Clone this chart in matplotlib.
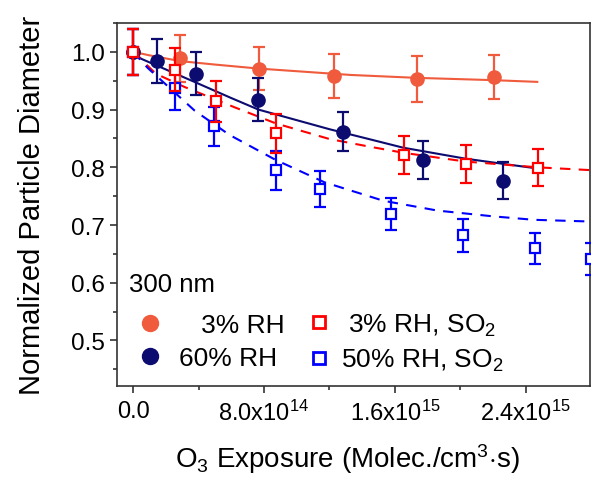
import numpy as np
import matplotlib
matplotlib.use("Agg")
from matplotlib import pyplot as plt
from matplotlib.lines import Line2D
from matplotlib.ticker import MultipleLocator

plt.rcParams['font.family'] = ['Liberation Sans', 'DejaVu Sans']
plt.rcParams['mathtext.fontset'] = 'custom'
plt.rcParams['mathtext.rm'] = 'Liberation Sans'
plt.rcParams['mathtext.it'] = 'Liberation Sans:italic'
plt.rcParams['mathtext.bf'] = 'Liberation Sans:bold'

# O3 exposure in units of 1e15 molec cm^-3 s
x_3rh = [0.0, 0.287, 0.770, 1.229, 1.733, 2.206]
y_3rh = [1.000, 0.989, 0.971, 0.958, 0.953, 0.957]
e_3rh = [0.040, 0.041, 0.037, 0.038, 0.040, 0.038]

x_60rh = [0.0, 0.145, 0.383, 0.765, 1.284, 1.773, 2.261]
y_60rh = [1.000, 0.984, 0.962, 0.917, 0.862, 0.812, 0.777]
e_60rh = [0.040, 0.038, 0.037, 0.037, 0.034, 0.033, 0.032]

x_3so2 = [0.0, 0.256, 0.507, 0.873, 1.655, 2.034, 2.475]
y_3so2 = [1.000, 0.969, 0.914, 0.859, 0.821, 0.805, 0.799]
e_3so2 = [0.040, 0.037, 0.036, 0.034, 0.033, 0.033, 0.032]

x_50so2 = [0.0, 0.256, 0.497, 0.871, 1.140, 1.574, 2.017, 2.455, 2.800]
y_50so2 = [1.000, 0.937, 0.871, 0.795, 0.763, 0.719, 0.682, 0.660, 0.641]
e_50so2 = [0.040, 0.038, 0.034, 0.034, 0.031, 0.028, 0.028, 0.027, 0.028]

# fitted curves
fx_3rh = [0.0, 0.10, 0.287, 0.50, 0.77, 1.33, 1.73, 2.20, 2.47]
fy_3rh = [1.000, 0.994, 0.984, 0.978, 0.971, 0.960, 0.955, 0.951, 0.948]

fx_60rh = [0.0, 0.05, 0.383, 0.60, 0.766, 1.20, 1.44, 1.65, 2.03, 2.26, 2.47]
fy_60rh = [1.000, 0.988, 0.947, 0.920, 0.900, 0.866, 0.849, 0.834, 0.815, 0.806, 0.798]

fx_3so2 = [0.0, 0.14, 0.316, 0.62, 0.873, 1.20, 1.44, 1.655, 2.03, 2.47, 2.80]
fy_3so2 = [1.000, 0.962, 0.939, 0.904, 0.876, 0.849, 0.836, 0.825, 0.810, 0.800, 0.795]

fx_50so2 = [0.0, 0.09, 0.377, 0.59, 0.87, 1.17, 1.53, 1.86, 2.20, 2.45, 2.80]
fy_50so2 = [1.000, 0.972, 0.898, 0.856, 0.813, 0.774, 0.742, 0.725, 0.715, 0.709, 0.706]

orange = '#EF5B3C'
navy = '#0B0B70'
red = '#FF0000'
blue = '#0000FF'

fig = plt.figure(figsize=(5.91, 4.85), dpi=100)
ax = fig.add_axes([0.198, 0.202, 0.800, 0.7485])

S = 1e15
ax.plot(np.array(fx_3rh) * S, fy_3rh, '-', color=orange, lw=1.5, zorder=2)
ax.plot(np.array(fx_60rh) * S, fy_60rh, '-', color=navy, lw=1.5, zorder=2)
ax.plot(np.array(fx_3so2) * S, fy_3so2, '--', color=red, lw=1.5, dashes=(5, 4), zorder=2)
ax.plot(np.array(fx_50so2) * S, fy_50so2, '--', color=blue, lw=1.5, dashes=(5, 4), zorder=2)

eb = dict(capsize=4.5, elinewidth=1.6, capthick=1.6, ls='none')
ax.errorbar(np.array(x_3rh) * S, y_3rh, yerr=e_3rh, fmt='o', color=orange,
            ms=9.5, zorder=3, **eb)
ax.errorbar(np.array(x_60rh) * S, y_60rh, yerr=e_60rh, fmt='o', color=navy,
            ms=9.5, zorder=3, **eb)
ax.errorbar(np.array(x_50so2) * S, y_50so2, yerr=e_50so2, fmt='s', color=blue,
            ms=6.5, mfc='white', mec=blue, mew=1.6, zorder=4, **eb)
ax.errorbar(np.array(x_3so2) * S, y_3so2, yerr=e_3so2, fmt='s', color=red,
            ms=6.5, mfc='white', mec=red, mew=1.6, zorder=5, **eb)

ax.set_xlim(-0.098 * S, 2.791 * S)
ax.set_ylim(0.421, 1.050)

ax.set_xticks([0, 0.8e15, 1.6e15, 2.4e15])
ax.set_xticklabels(['0.0', r'8.0x10$^{14}$', r'1.6x10$^{15}$', r'2.4x10$^{15}$'],
                   fontsize=17)
ax.xaxis.set_minor_locator(MultipleLocator(0.4e15))
ax.set_yticks([0.5, 0.6, 0.7, 0.8, 0.9, 1.0])
ax.set_yticklabels(['0.5', '0.6', '0.7', '0.8', '0.9', '1.0'], fontsize=17.5)
ax.yaxis.set_minor_locator(MultipleLocator(0.05))
ax.tick_params(which='major', length=5, width=1.2, color='#333333')
ax.tick_params(axis='x', which='major', pad=5)
ax.tick_params(which='minor', length=3, width=1.2, color='#333333')
for sp in ax.spines.values():
    sp.set_linewidth(1.2)
    sp.set_color('#333333')

ax.set_ylabel('Normalized Particle Diameter', fontsize=21, labelpad=18)
ax.set_xlabel(r'O$_3$ Exposure (Molec./cm$^3$$\cdot$s)', fontsize=20)
ax.xaxis.set_label_coords(0.487, -0.152)

ax.text(0.025, 0.281, '300 nm', transform=ax.transAxes, fontsize=18.5,
        va='center', ha='left')

h1 = [Line2D([], [], ls='', marker='o', color=orange, ms=11.5),
      Line2D([], [], ls='', marker='o', color=navy, ms=11.5)]
leg1 = ax.legend(h1, ['   3% RH', '60% RH'], loc='upper left',
                 bbox_to_anchor=(0.042, 0.200), frameon=False, fontsize=19,
                 handlelength=1.0, handletextpad=0.6, labelspacing=0.34,
                 borderpad=0, borderaxespad=0)
ax.add_artist(leg1)
h2 = [Line2D([], [], ls='', marker='s', color=red, mfc='white', mec=red, mew=2, ms=8),
      Line2D([], [], ls='', marker='s', color=blue, mfc='white', mec=blue, mew=2, ms=8)]
ax.legend(h2, [' 3% RH, SO$_2$', '50% RH, SO$_2$'], loc='upper left',
          bbox_to_anchor=(0.400, 0.205), frameon=False, fontsize=19,
          handlelength=1.0, handletextpad=0.32, labelspacing=0.34,
          borderpad=0, borderaxespad=0)

fig.savefig('out.png', dpi=100)
